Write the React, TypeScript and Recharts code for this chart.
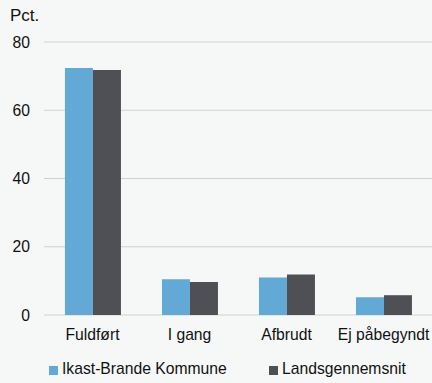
import { Bar, BarChart, CartesianGrid, XAxis, YAxis } from "recharts";

const categories = ["Fuldført", "I gang", "Afbrudt", "Ej påbegyndt"];
const ikastBrande = [72.4, 10.5, 11.0, 5.2];
const landsgennemsnit = [71.8, 9.7, 11.9, 5.8];
const yTicks = [0, 20, 40, 60, 80];

const series = [
  { key: "ikast", name: "Ikast-Brande Kommune", color: "#63a9d6" },
  { key: "lands", name: "Landsgennemsnit", color: "#4f5055" },
];

const data = categories.map((name, i) => ({
  name,
  idx: i + 0.5,
  ikast: ikastBrande[i],
  lands: landsgennemsnit[i],
}));

const font = "'Liberation Sans', Arial, sans-serif";
const fontSize = 15.7;

export default function App() {
  return (
    <div
      style={{
        position: "absolute",
        left: 0,
        top: 0,
        width: 432,
        height: 383,
        background: "#f6f8f8",
        fontFamily: font,
        color: "#111",
      }}
    >
      <div style={{ position: "absolute", left: 10, top: 7, fontSize: 17, lineHeight: "18px", fontFamily: font }}>
        Pct.
      </div>
      <BarChart
        width={432}
        height={383}
        data={data}
        margin={{ top: 42, right: 0, bottom: 0, left: 0 }}
        barCategoryGap="21.6%"
        barGap={0}
      >
        <CartesianGrid vertical={false} stroke="#d0d0d0" strokeWidth={1} />
        <XAxis
          xAxisId="edge"
          type="number"
          dataKey="idx"
          domain={[0, 4]}
          ticks={[0, 1, 2, 3, 4]}
          allowDataOverflow
          height={0}
          tick={false}
          tickSize={5}
          axisLine={{ stroke: "#000", strokeWidth: 1.6 }}
          tickLine={{ stroke: "#000", strokeWidth: 1.6 }}
        />
        <XAxis
          dataKey="name"
          height={68}
          axisLine={false}
          tickLine={false}
          tickSize={6}
          tickMargin={8}
          tick={{ fill: "#111", fontSize, fontFamily: font }}
          interval={0}
        />
        <YAxis
          width={44}
          domain={[0, 80]}
          ticks={yTicks}
          axisLine={false}
          tickLine={false}
          tickMargin={8}
          tick={{ fill: "#111", fontSize, fontFamily: font }}
        />
        {series.map((s) => (
          <Bar key={s.key} dataKey={s.key} name={s.name} fill={s.color} isAnimationActive={false} />
        ))}
      </BarChart>
      {series.map((s, i) => (
        <div
          key={s.key}
          style={{
            position: "absolute",
            left: i === 0 ? 49 : 269,
            top: 360,
            fontSize,
            fontFamily: font,
            lineHeight: "18px",
            display: "flex",
            alignItems: "center",
            whiteSpace: "nowrap",
          }}
        >
          <span
            style={{ display: "inline-block", width: 9, height: 9, background: s.color, marginRight: 4, marginTop: 2 }}
          />
          {s.name}
        </div>
      ))}
    </div>
  );
}
